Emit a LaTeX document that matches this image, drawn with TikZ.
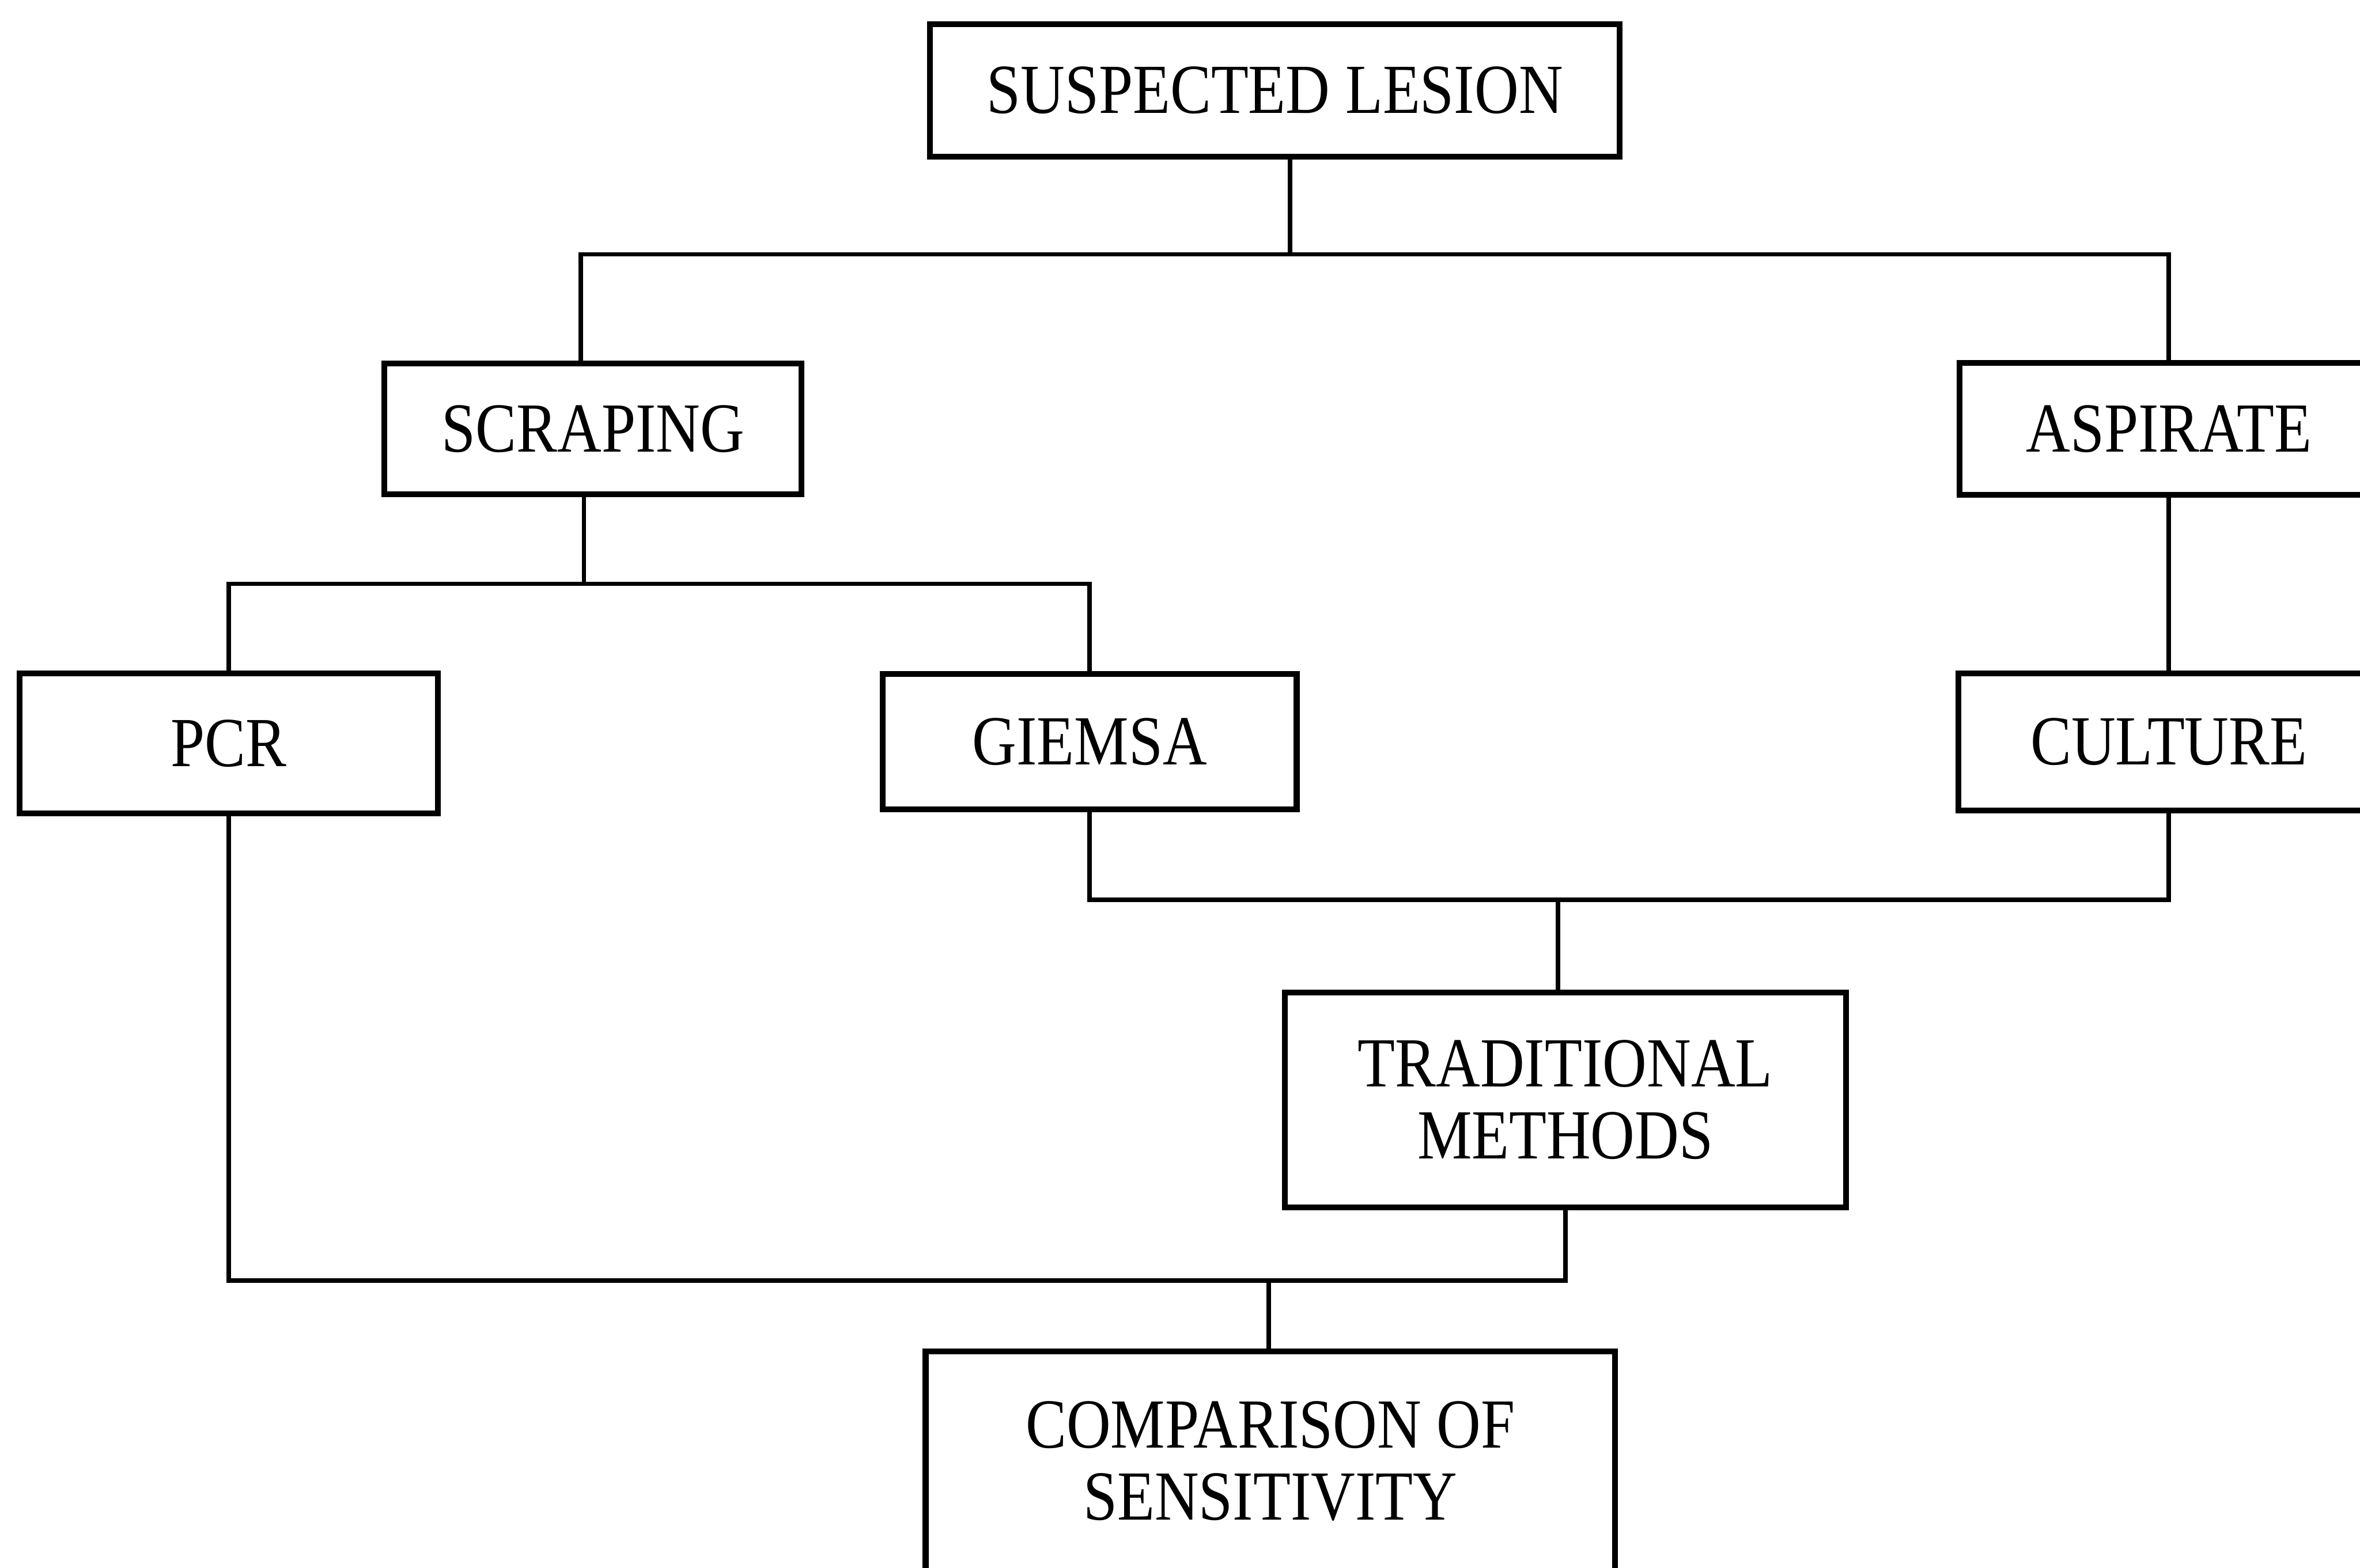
\documentclass[tikz,border=0pt]{standalone}
\usepackage{fontspec}
\setmainfont[FakeStretch=0.87]{Liberation Serif}
\usepackage{tikz}
\usetikzlibrary{positioning}

\begin{document}
\begin{tikzpicture}[x=0.2mm,y=-0.2mm,
box/.style={draw,line width=2.2pt,inner sep=0pt,align=center,font=\fontsize{26.6}{27.2}\selectfont},
link/.style={line width=1.7pt}]
\useasboundingbox (0,0) rectangle (1568,1042);
\clip (0,0) rectangle (1568,1042);
\node[box,minimum width=9.16cm,minimum height=1.76cm] (lesion) at (847,60) {SUSPECTED LESION};
\node[box,minimum width=5.54cm,minimum height=1.74cm] (scraping) at (394,285) {SCRAPING};
\node[box,minimum width=5.56cm,minimum height=1.76cm] (aspirate) at (1441,285) {ASPIRATE};
\node[box,minimum width=5.56cm,minimum height=1.86cm] (pcr) at (152,494) {PCR};
\node[box,minimum width=5.50cm,minimum height=1.80cm] (giemsa) at (724,493) {GIEMSA};
\node[box,minimum width=5.60cm,minimum height=1.82cm] (culture) at (1441,493) {CULTURE};
\node[box,minimum width=7.46cm,minimum height=2.86cm] (trad) at (1040,731) {TRADITIONAL\\METHODS};
\node[box,minimum width=9.16cm,minimum height=2.92cm] (comp) at (844,971) {COMPARISON OF\\SENSITIVITY};
% junctions
\coordinate (top) at (857,169);
\coordinate (split) at (388,388);
\coordinate (merge) at (1035,598);
\coordinate (join) at (843,851);
\draw[link] (top |- lesion.south) -- (top);
\draw[link] (scraping.north -| 386,0) |- (top) -| (aspirate.north);
\draw[link] (split |- scraping.south) -- (split);
\draw[link] (pcr.north) |- (split) -| (giemsa.north);
\draw[link] (aspirate.south) -- (culture.north);
\draw[link] (giemsa.south) |- (merge) -| (culture.south);
\draw[link] (merge) -- (merge |- trad.north);
\draw[link] (pcr.south) |- (join) -| (trad.south);
\draw[link] (join) -- (join |- comp.north);
\end{tikzpicture}
\end{document}
